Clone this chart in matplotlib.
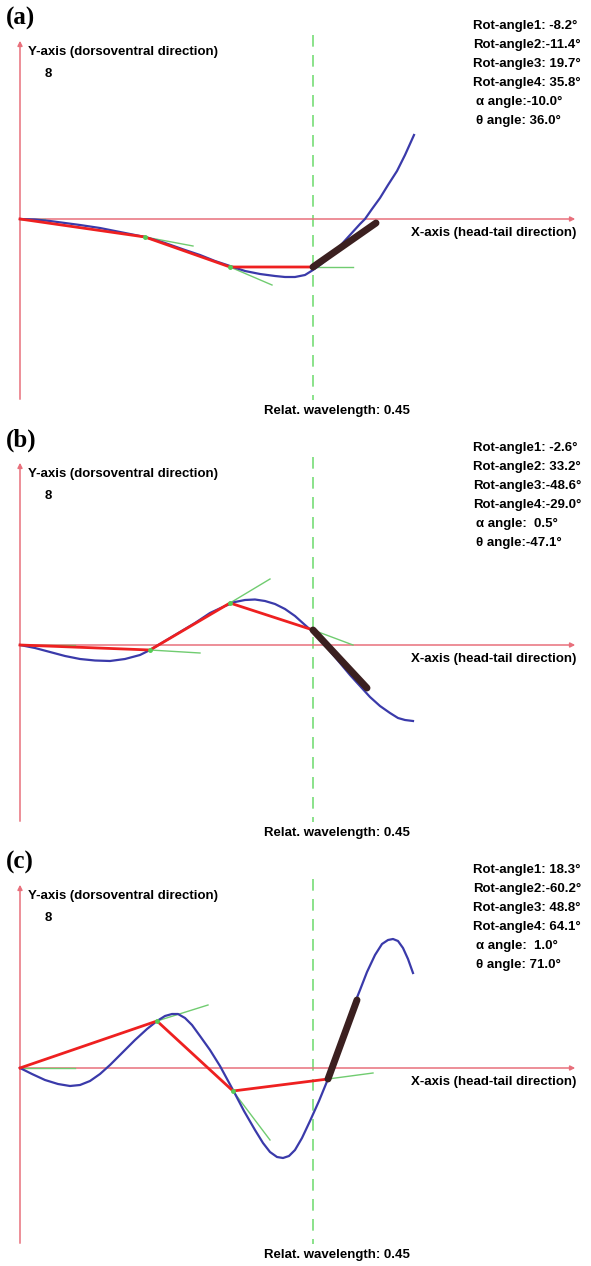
import matplotlib
matplotlib.use("Agg")
import matplotlib.pyplot as plt

# panel data, pixel-like units, origin where the two body axes cross (y up)
panel_names = ["(a)", "(b)", "(c)"]

rot_a = ["Rot-angle1: -8.2°", "Rot-angle2:-11.4°", "Rot-angle3: 19.7°", "Rot-angle4: 35.8°",
         "α angle:-10.0°", "θ angle: 36.0°"]
rot_b = ["Rot-angle1: -2.6°", "Rot-angle2: 33.2°", "Rot-angle3:-48.6°", "Rot-angle4:-29.0°",
         "α angle:  0.5°", "θ angle:-47.1°"]
rot_c = ["Rot-angle1: 18.3°", "Rot-angle2:-60.2°", "Rot-angle3: 48.8°", "Rot-angle4: 64.1°",
         "α angle:  1.0°", "θ angle: 71.0°"]

# blue body curve
body_a_x = [0, 15, 30, 45, 60, 80, 100, 125, 145, 165, 180, 195, 210, 225, 240, 255, 265, 275,
            285, 293, 300, 310, 320, 330, 340, 345, 352, 360, 368, 377, 385, 394]
body_a_y = [0, -0.5, -2, -4, -6, -9, -13, -18, -24, -31, -36, -42, -47, -52, -55, -57, -58, -58,
            -56, -51, -46, -38, -27, -16, -5, 0, 10, 21, 34, 48, 64, 84]
body_b_x = [0, 15, 30, 45, 60, 75, 90, 105, 120, 130, 145, 160, 175, 190, 205, 215, 225, 235,
            245, 255, 265, 275, 285, 293, 302, 310, 320, 330, 340, 350, 360, 370, 378, 385, 393]
body_b_y = [0, -3, -7, -11, -14, -15.5, -16, -14, -10, -5, 4, 13, 22, 32, 39, 43, 45, 45.5,
            44, 41, 36, 29, 20, 13, 4, -6, -18, -30, -41, -52, -61, -68, -73, -75, -76]
body_c_x = [0, 12, 25, 38, 50, 60, 70, 80, 90, 102, 115, 127, 137, 145, 152, 158, 165, 172, 180,
            190, 200, 213, 224, 235, 243, 250, 257, 263, 269, 275, 282, 290, 299, 308, 316, 325,
            332, 340, 347, 355, 362, 368, 373, 378, 383, 388, 393]
body_c_y = [0, -6, -12, -16, -18, -17, -13, -6, 3, 15, 28, 39, 47, 52, 54, 54, 50, 43, 32,
            18, 2, -22, -43, -62, -75, -84, -89, -90, -88, -82, -70, -53, -33, -11, 12, 38,
            58, 78, 96, 113, 124, 128, 129, 127, 120, 109, 95]

# red segment chain (joints)
seg_a_x = [0, 125, 210, 293]
seg_a_y = [0, -18, -48, -48]
seg_b_x = [0, 130, 210, 293]
seg_b_y = [0, -5, 42, 15]
seg_c_x = [0, 137, 213, 308]
seg_c_y = [0, 47, -23, -11]

# dark tail segment
tail_a_x = [293, 356]
tail_a_y = [-48, -4]
tail_b_x = [293, 347]
tail_b_y = [15, -43]
tail_c_x = [308, 337]
tail_c_y = [-11, 68]

# green tangent ends, one per joint
tan_a_end_x = [25, 173, 252, 333]
tan_a_end_y = [0, -27, -66, -48]
tan_b_end_x = [55, 180, 250, 333]
tan_b_end_y = [0, -8, 66, 0]
tan_c_end_x = [55, 188, 250, 353]
tan_c_end_y = [0, 63, -72, -5]

wave_x = 293
wave_label = "Relat. wavelength: 0.45"

panels = [
    (rot_a, body_a_x, body_a_y, seg_a_x, seg_a_y, tail_a_x, tail_a_y, tan_a_end_x, tan_a_end_y),
    (rot_b, body_b_x, body_b_y, seg_b_x, seg_b_y, tail_b_x, tail_b_y, tan_b_end_x, tan_b_end_y),
    (rot_c, body_c_x, body_c_y, seg_c_x, seg_c_y, tail_c_x, tail_c_y, tan_c_end_x, tan_c_end_y),
]
axis_rows = [219, 645, 1068]   # pixel row of the x-axis in each panel
panel_tops = [0, 422, 844]

W, H = 591, 1266
fig = plt.figure(figsize=(W / 100, H / 100), dpi=100)

axis_col = "#e8707c"
sans = ["Liberation Sans", "DejaVu Sans"]
fs = 9.5

for i, p in enumerate(panels):
    rot, bx, by, sx, sy, tx, ty, gx, gy = p
    top = panel_tops[i]
    row = axis_rows[i]
    ax = fig.add_axes([0, 1 - (top + 422) / H, 1, 422 / H])
    ax.set_xlim(-20, W - 20)
    ax.set_ylim(row - (top + 422), row - top)
    ax.axis("off")

    # body axes with arrows
    ax.annotate("", xy=(558, 0), xytext=(0, 0),
                arrowprops=dict(arrowstyle="-|>", color=axis_col, lw=1.1, mutation_scale=7))
    ax.annotate("", xy=(0, row - top - 38), xytext=(0, row - top - 402),
                arrowprops=dict(arrowstyle="-|>", color=axis_col, lw=1.1, mutation_scale=7))

    # wavelength marker
    ax.plot([wave_x, wave_x], [row - top - 35, row - top - 400], color="#77dd77",
            lw=1.2, dashes=(7, 5))

    # tangents
    for k in range(len(sx)):
        ax.plot([sx[k], gx[k]], [sy[k], gy[k]], color="#70cc70", lw=1.0, zorder=3)

    ax.plot(bx, by, color="#3a3aaa", lw=1.6, zorder=4)
    ax.plot(sx, sy, color="#ee2020", lw=2.0, zorder=5)
    ax.plot(sx[1:], sy[1:], "o", color="#55cc55", ms=2.5, zorder=6)
    ax.plot(tx, ty, color="#3b2020", lw=5, solid_capstyle="round", zorder=7)

    # texts
    ax.text(-14, row - top - 18, panel_names[i], fontsize=18, fontweight="bold",
            family=["Liberation Serif", "DejaVu Serif"], va="center", ha="left")
    ax.text(8, row - top - 52, "Y-axis (dorsoventral direction)", fontsize=fs,
            fontweight="bold", family=sans, va="center", ha="left")
    ax.text(25, row - top - 74, "8", fontsize=fs, fontweight="bold", family=sans,
            va="center", ha="left")
    ax.text(556, -14, "X-axis (head-tail direction)", fontsize=fs, fontweight="bold",
            family=sans, va="center", ha="right")
    ax.text(317, row - top - 411, wave_label, fontsize=fs, fontweight="bold",
            family=sans, va="center", ha="center")
    for j, s in enumerate(rot):
        xoff = 453 if j < 4 else 456
        ax.text(xoff, row - top - 26 - 19 * j, s, fontsize=fs, fontweight="bold",
                family=sans, va="center", ha="left")

fig.savefig("out.png", dpi=100, facecolor="white")
